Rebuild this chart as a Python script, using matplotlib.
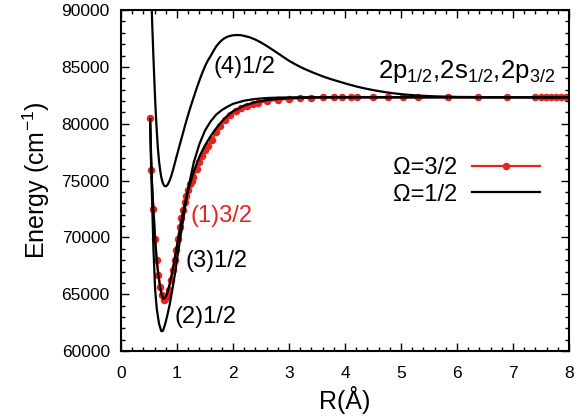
import matplotlib
matplotlib.use("Agg")
import matplotlib.pyplot as plt
from matplotlib.ticker import MultipleLocator

plt.rcParams['font.family'] = ['Liberation Sans', 'DejaVu Sans']
plt.rcParams['mathtext.fontset'] = 'custom'
plt.rcParams['mathtext.rm'] = 'Liberation Sans'
plt.rcParams['mathtext.it'] = 'Liberation Sans:italic'
plt.rcParams['mathtext.bf'] = 'Liberation Sans:bold'

RED = '#e8231d'

# Omega = 3/2 : state (1)3/2 (red, points)
R_1 = [0.52, 0.54, 0.58, 0.61, 0.64, 0.67, 0.70, 0.73, 0.76, 0.79, 0.82, 0.85,
       0.89, 0.93, 0.96, 0.99, 1.02, 1.05, 1.08, 1.11, 1.14, 1.17, 1.20, 1.23,
       1.26, 1.29, 1.35, 1.40, 1.45, 1.50, 1.55, 1.62, 1.70, 1.77, 1.85, 1.95,
       2.05, 2.15, 2.25, 2.35, 2.45, 2.60, 2.80, 3.00, 3.20, 3.40, 3.60, 3.80,
       3.95, 4.10, 4.22, 4.50, 4.77, 5.04, 5.31, 5.84, 6.38, 6.89, 7.40, 7.49,
       7.58, 7.67, 7.76, 7.85, 7.94, 8.00]
E_1 = [80500, 75900, 72500, 69900, 68000, 66700, 65650, 64950, 64500, 64600, 64850, 65400,
       66250, 67100, 68000, 68900, 69900, 70900, 71700, 72400, 73150, 73650, 74150, 74700,
       75000, 75300, 76000, 76600, 77150, 77650, 78050, 78600, 79250, 79800, 80300, 80750,
       81100, 81380, 81580, 81740, 81850, 81980, 82100, 82190, 82250, 82290, 82310, 82320,
       82325, 82330, 82330, 82330, 82330, 82330, 82330, 82330, 82330, 82330, 82330, 82330,
       82330, 82330, 82330, 82330, 82330, 82330]

# Omega = 1/2 : state (2)1/2
R_2 = [0.52, 0.55, 0.58, 0.61, 0.64, 0.68, 0.72, 0.75, 0.79, 0.83, 0.87, 0.92, 0.97,
       1.02, 1.08, 1.14, 1.20, 1.30, 1.40, 1.50, 1.60, 1.70, 1.80, 1.90, 2.00, 2.20,
       2.40, 2.60, 2.80, 3.20, 8.00]
E_2 = [80400, 74200, 69000, 65400, 63700, 62400, 61750, 61800, 62400, 63200, 64100, 65500, 67000,
       68700, 70600, 72500, 74300, 76600, 78200, 79400, 80200, 80800, 81200, 81500, 81750, 82030,
       82180, 82260, 82300, 82330, 82330]

# Omega = 1/2 : state (3)1/2
R_3 = [0.52, 0.55, 0.58, 0.61, 0.64, 0.67, 0.70, 0.73, 0.76, 0.79, 0.82, 0.86, 0.90,
       0.95, 1.00, 1.05, 1.10, 1.15, 1.20, 1.30, 1.40, 1.50, 1.60, 1.70, 1.80, 1.90,
       2.00, 2.20, 2.40, 2.60, 2.80, 3.00, 3.30, 3.60, 4.00, 8.00]
E_3 = [80400, 75200, 72300, 69800, 67900, 66600, 65600, 64900, 64600, 64700, 65000, 65700, 66600,
       67900, 69300, 70700, 72000, 73200, 74200, 75800, 77100, 78100, 78900, 79600, 80200, 80700,
       81100, 81600, 81900, 82080, 82180, 82250, 82300, 82320, 82330, 82330]

# Omega = 1/2 : state (4)1/2
R_4 = [0.54, 0.56, 0.58, 0.60, 0.62, 0.64, 0.66, 0.68, 0.70, 0.72, 0.74, 0.76, 0.78,
       0.80, 0.82, 0.84, 0.86, 0.88, 0.90, 0.93, 0.96, 1.00, 1.05, 1.10, 1.15, 1.20,
       1.25, 1.30, 1.35, 1.40, 1.45, 1.50, 1.55, 1.60, 1.65, 1.70, 1.75, 1.80, 1.85,
       1.90, 1.95, 2.00, 2.05, 2.10, 2.15, 2.20, 2.30, 2.40, 2.50, 2.60, 2.70, 2.80,
       2.90, 3.00, 3.10, 3.20, 3.30, 3.45, 3.60, 3.75, 3.90, 4.05, 4.20, 4.35, 4.50,
       4.75, 5.00, 5.30, 5.60, 6.00, 6.50, 7.00, 8.00]
E_4 = [91500, 88500, 85800, 83300, 81100, 79300, 77800, 76700, 75900, 75300, 74900, 74650, 74520,
       74500, 74560, 74700, 74900, 75150, 75450, 75950, 76500, 77250, 78150, 79050, 79950, 80800,
       81600, 82350, 83100, 83800, 84450, 85050, 85550, 85950, 86400, 86800, 87100, 87350, 87530,
       87650, 87730, 87780, 87800, 87800, 87780, 87730, 87600, 87400, 87150, 86850, 86530, 86200,
       85870, 85540, 85260, 85000, 84770, 84460, 84170, 83920, 83700, 83480, 83280, 83110, 82960,
       82750, 82600, 82480, 82410, 82360, 82340, 82330, 82330]

state_labels = ['(1)3/2', '(2)1/2', '(3)1/2', '(4)1/2']
legend_labels = ['\u03a9=3/2', '\u03a9=1/2']
asym_label = r'2p$_{\mathrm{1/2}}$,2s$_{\mathrm{1/2}}$,2p$_{\mathrm{3/2}}$'

fig = plt.figure(figsize=(5.76, 4.19), dpi=100)
ax = fig.add_axes([0.210, 0.162, 0.778, 0.814])

l1, = ax.plot(R_1, E_1, color=RED, lw=1.6, marker='o', ms=4.4, zorder=2,
              label=legend_labels[0])
l2, = ax.plot(R_2, E_2, color='black', lw=1.6, zorder=3, label=legend_labels[1])
ax.plot(R_3, E_3, color='black', lw=1.6, zorder=3)
ax.plot(R_4, E_4, color='black', lw=1.6, zorder=3)

ax.set_xlim(0, 8)
ax.set_ylim(60000, 90000)
ax.xaxis.set_major_locator(MultipleLocator(1))
ax.xaxis.set_minor_locator(MultipleLocator(0.2))
ax.yaxis.set_major_locator(MultipleLocator(5000))
ax.yaxis.set_minor_locator(MultipleLocator(1000))
ax.tick_params(which='both', direction='in', top=True, right=True, labelsize=12.5, width=1.0)
ax.tick_params(which='major', length=6)
ax.tick_params(which='minor', length=3)
ax.tick_params(axis='x', which='major', pad=11)
ax.tick_params(axis='y', which='major', pad=8)
for s in ax.spines.values():
    s.set_linewidth(1.5)

ax.set_xlabel('R(\u00c5)', fontsize=18, labelpad=3)
ax.set_ylabel('Energy (cm$^{\\mathrm{-1}}$)', fontsize=18, labelpad=7)

ax.text(1.25, 71880, state_labels[0], color=RED, fontsize=17, va='center', ha='left')
ax.text(1.16, 67920, state_labels[2], color='black', fontsize=17, va='center', ha='left')
ax.text(0.95, 63020, state_labels[1], color='black', fontsize=17, va='center', ha='left')
ax.text(1.65, 84990, state_labels[3], color='black', fontsize=17, va='center', ha='left')
ax.text(4.59, 84000, asym_label, color='black', fontsize=18.5, va='baseline', ha='left')

ax.legend(handles=[l1, l2], loc='upper right', bbox_to_anchor=(0.957, 0.597),
          frameon=False, markerfirst=False, fontsize=17, handlelength=2.9,
          labelspacing=0.2, borderaxespad=0, handletextpad=0.6)

fig.savefig('out.png', dpi=100)
